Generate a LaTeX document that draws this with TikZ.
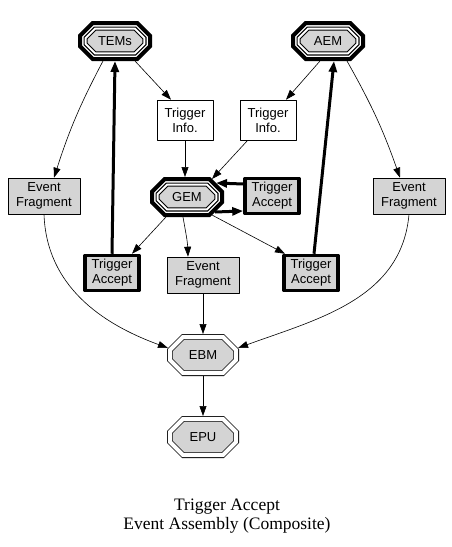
\documentclass[tikz,border=0pt]{standalone}
\usepackage{fontspec}
\setmainfont{Liberation Serif}
\newfontfamily\arialfont{Liberation Sans}
\usetikzlibrary{arrows.meta,calc,backgrounds}
\definecolor{boxgray}{RGB}{212,212,212}
% osmykutnyk z zrizanymy kutamy: vuzol, vidstup, zriz
\newcommand\octpath[3]{%
  ($(#1.north west)+(#2+#3,-#2)$) -- ($(#1.north east)+(-#2-#3,-#2)$) --
  ($(#1.north east)+(-#2,-#2-#3)$) -- ($(#1.south east)+(-#2,#2+#3)$) --
  ($(#1.south east)+(-#2-#3,#2)$) -- ($(#1.south west)+(#2+#3,#2)$) --
  ($(#1.south west)+(#2,#2+#3)$) -- ($(#1.north west)+(#2,-#2-#3)$) -- cycle}

\begin{document}
\begin{tikzpicture}[x=1pt, y=1pt, line join=round,
    every node/.style={font=\arialfont\fontsize{13}{15}\selectfont, align=center},
    octnode/.style={rectangle, inner sep=0pt, outer sep=0pt, minimum width=74pt, minimum height=40pt},
    thinoct/.style={octnode, minimum width=72pt, minimum height=42pt},
    infobox/.style={rectangle, draw, fill=white, line width=.6pt, minimum width=56pt, minimum height=40pt, inner sep=2pt},
    fragbox/.style={rectangle, draw, fill=boxgray, line width=.6pt, minimum width=72pt, minimum height=36pt, inner sep=2pt},
    acceptbox/.style={rectangle, draw, fill=boxgray, line width=3.5pt, minimum width=54pt, minimum height=35pt, inner sep=2pt},
    arr/.style={-{Triangle[length=10pt,width=7pt]}, line width=.6pt},
    boldarr/.style={-{Triangle[length=11pt,width=8pt]}, line width=3pt}
  ]
  \useasboundingbox (0,0) rectangle (452,-547);
  % osmykutnyky
  \node[octnode] (tems) at (115,-41) {TEMs};
  \node[octnode] (aem) at (328,-41) {AEM};
  \node[octnode] (gem) at (187,-197) {GEM};
  \node[thinoct] (ebm) at (203,-355) {EBM};
  \node[thinoct] (epu) at (203,-437) {EPU};
  % prjamokutnyky
  \node[infobox] (tinfoL) at (185,-120) {Trigger\\Info.};
  \node[infobox] (tinfoR) at (268,-120) {Trigger\\Info.};
  \node[fragbox] (fragL) at (44,-196) {Event\\Fragment};
  \node[fragbox] (fragR) at (409,-196) {Event\\Fragment};
  \node[acceptbox] (accR) at (272,-196) {Trigger\\Accept};
  \node[acceptbox] (accL) at (112,-273) {Trigger\\Accept};
  \node[fragbox] (fragM) at (203,-275) {Event\\Fragment};
  \node[acceptbox] (accRR) at (311,-273) {Trigger\\Accept};
  \begin{scope}[on background layer]
    \foreach \n in {tems,aem,gem} {
      \draw[line width=4pt, fill=white] \octpath{\n}{2}{12.8};
      \draw[line width=1.1pt, double=white, double distance=2pt, fill=boxgray] \octpath{\n}{7.6}{9.5};
    }
    \foreach \n in {ebm,epu}
      \draw[line width=.8pt, double=white, double distance=4pt, fill=boxgray] \octpath{\n}{2.8}{13.4};
  \end{scope}
  % tonki strilky
  \draw[arr] ([xshift=20pt]tems.south) -- ([xshift=-14pt]tinfoL.north);
  \draw[arr] ([xshift=-12pt]tems.south) to[bend right=5] ([xshift=10pt]fragL.north);
  \draw[arr] ([xshift=-8pt]aem.south) -- ([xshift=18pt]tinfoR.north);
  \draw[arr] ([xshift=19pt]aem.south) to[bend left=5] ([xshift=-9pt]fragR.north);
  \draw[arr] (tinfoL.south) -- (tinfoL.south |- gem.north);
  \draw[arr] ([xshift=8pt]tinfoR.south west) -- ($(gem.north east)+(-12,-2)$);
  \draw[arr] ($(gem.south west)+(16,0)$) -- ([xshift=20pt]accL.north);
  \draw[arr] ([xshift=-4pt]gem.south) to[out=-80,in=92] ([xshift=-15pt]fragM.north);
  \draw[arr] ($(gem.south east)+(-12,2)$) -- ([xshift=-26pt]accRR.north);
  \draw[arr] (fragL.south) to[out=-88,in=160] ($(ebm.north west)+(1,-14)$);
  \draw[arr] (fragR.south) to[out=-95,in=20] ($(ebm.north east)+(-1,-14)$);
  \draw[arr] (fragM.south) -- (ebm.north);
  \draw[arr] (ebm) -- (epu);
  % zhyrni strilky
  \draw[boldarr] ([yshift=12pt]accR.west) -- ($(gem.north east)+(-8,-6)$);
  \draw[boldarr] ($(gem.south east)+(-9,5)$) -- ([yshift=-15pt]accR.west);
  \draw[boldarr] (accL.north) -- (tems.south);
  \draw[boldarr] ([xshift=3pt]accRR.north) -- ([xshift=6pt]aem.south);
  \node[font=\fontsize{17.5}{19}\selectfont] (title) at (227,-516) {Trigger Accept\\Event Assembly (Composite)};
\end{tikzpicture}
\end{document}
